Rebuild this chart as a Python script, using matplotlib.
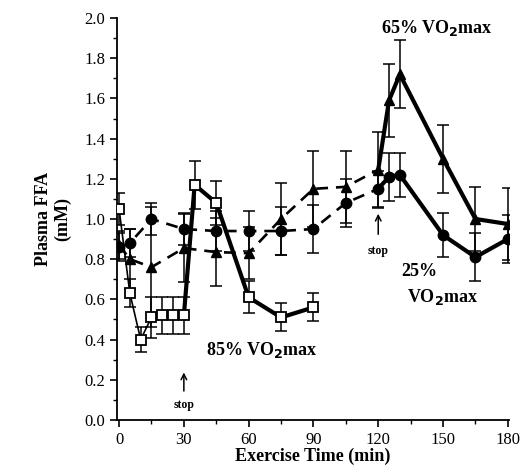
import numpy as np
import matplotlib
matplotlib.use('Agg')
import matplotlib.pyplot as plt
from matplotlib.ticker import MultipleLocator

plt.rcParams['font.family'] = ['Liberation Serif', 'DejaVu Serif']

# 25% VO2max (filled circles)
t25 = [0, 5, 15, 30, 45, 60, 75, 90, 105, 120, 125, 130, 150, 165, 180]
ffa25 = [0.86, 0.88, 1.00, 0.95, 0.94, 0.94, 0.94, 0.95, 1.08, 1.15, 1.21, 1.22, 0.92, 0.81, 0.90]
err25 = [0.07, 0.07, 0.08, 0.08, 0.10, 0.10, 0.12, 0.12, 0.12, 0.09, 0.12, 0.11, 0.11, 0.12, 0.12]
stop25 = 9  # index of the 120 min point

# 65% VO2max (filled triangles)
t65 = [0, 5, 15, 30, 45, 60, 75, 90, 105, 120, 125, 130, 150, 165, 180]
ffa65 = [0.87, 0.80, 0.76, 0.855, 0.835, 0.83, 1.00, 1.15, 1.16, 1.245, 1.59, 1.72, 1.30, 1.00, 0.975]
err65 = [0.07, 0.15, 0.30, 0.17, 0.17, 0.13, 0.18, 0.19, 0.18, 0.19, 0.18, 0.17, 0.17, 0.16, 0.18]
stop65 = 9

# 85% VO2max (open squares)
t85 = [0, 5, 10, 15, 20, 25, 30, 35, 45, 60, 75, 90]
ffa85 = [1.05, 0.63, 0.40, 0.51, 0.52, 0.52, 0.52, 1.17, 1.08, 0.61, 0.51, 0.56]
err85 = [0.08, 0.07, 0.06, 0.10, 0.09, 0.09, 0.09, 0.12, 0.11, 0.08, 0.07, 0.07]
stop85 = 6  # index of the 30 min point

fig = plt.figure(figsize=(5.29, 4.75), dpi=100)
ax = fig.add_axes([0.221, 0.116, 0.741, 0.846])

dash = dict(color='black', lw=1.9, ls=(0, (4.5, 3)), zorder=2)
solid = dict(color='black', lw=3.0, zorder=2)
ebar = dict(fmt='none', ecolor='black', elinewidth=1.1, capsize=4.5, capthick=1.1, zorder=3)

# exercise (dashed) and recovery (solid) segments
ax.plot(t25[:stop25 + 1], ffa25[:stop25 + 1], **dash)
ax.plot(t25[stop25:], ffa25[stop25:], **solid)
ax.plot(t65[:stop65 + 1], ffa65[:stop65 + 1], **dash)
ax.plot(t65[stop65:], ffa65[stop65:], **solid)
ax.plot(t85[:stop85 + 1], ffa85[:stop85 + 1], color='black', lw=1.2, zorder=2)
ax.plot(t85[stop85:], ffa85[stop85:], **solid)

ax.errorbar(t25, ffa25, yerr=err25, **ebar)
ax.errorbar(t65, ffa65, yerr=err65, **ebar)
ax.errorbar(t85, ffa85, yerr=err85, **ebar)

ax.plot(t25, ffa25, 'o', ms=7.5, mfc='black', mec='black', ls='none', zorder=4)
ax.plot(t65, ffa65, '^', ms=7.5, mfc='black', mec='black', ls='none', zorder=4)
ax.plot(t85, ffa85, 's', ms=7.2, mfc='white', mec='black', mew=1.3, ls='none', zorder=5)

# labels on the plot
ax.text(147, 1.95, r'65% VO$_\mathbf{2}$max', ha='center', va='center',
        fontsize=13, fontweight='bold')
ax.text(139, 0.74, '25%', ha='center', va='center', fontsize=13, fontweight='bold')
ax.text(150, 0.61, r'VO$_\mathbf{2}$max', ha='center', va='center',
        fontsize=13, fontweight='bold')
ax.text(66, 0.35, r'85% VO$_\mathbf{2}$max', ha='center', va='center',
        fontsize=13, fontweight='bold')

ax.annotate('', xy=(30, 0.25), xytext=(30, 0.13),
            arrowprops=dict(arrowstyle='->', color='black', lw=1.1))
ax.text(30, 0.075, 'stop', ha='center', va='center', fontsize=8.5, fontweight='bold')
ax.annotate('', xy=(120, 1.04), xytext=(120, 0.91),
            arrowprops=dict(arrowstyle='->', color='black', lw=1.1))
ax.text(120, 0.84, 'stop', ha='center', va='center', fontsize=8.5, fontweight='bold')

ax.set_xlim(-1, 180.5)
ax.set_ylim(0, 2.0)
ax.xaxis.set_major_locator(MultipleLocator(30))
ax.xaxis.set_minor_locator(MultipleLocator(15))
ax.yaxis.set_major_locator(MultipleLocator(0.2))
ax.yaxis.set_minor_locator(MultipleLocator(0.1))
ax.yaxis.set_major_formatter(matplotlib.ticker.FormatStrFormatter('%.1f'))
ax.tick_params(which='major', direction='out', length=5, width=1.2, labelsize=12)
ax.tick_params(which='minor', direction='out', length=3, width=1.0)

for s in ['top', 'right']:
    ax.spines[s].set_visible(False)
for s in ['left', 'bottom']:
    ax.spines[s].set_linewidth(1.3)

ax.set_xlabel('Exercise Time (min)', fontsize=13, fontweight='bold', labelpad=0)
ax.set_ylabel('Plasma FFA\n(mM)', fontsize=13, fontweight='bold', labelpad=9)

fig.savefig('out.png', dpi=100)
